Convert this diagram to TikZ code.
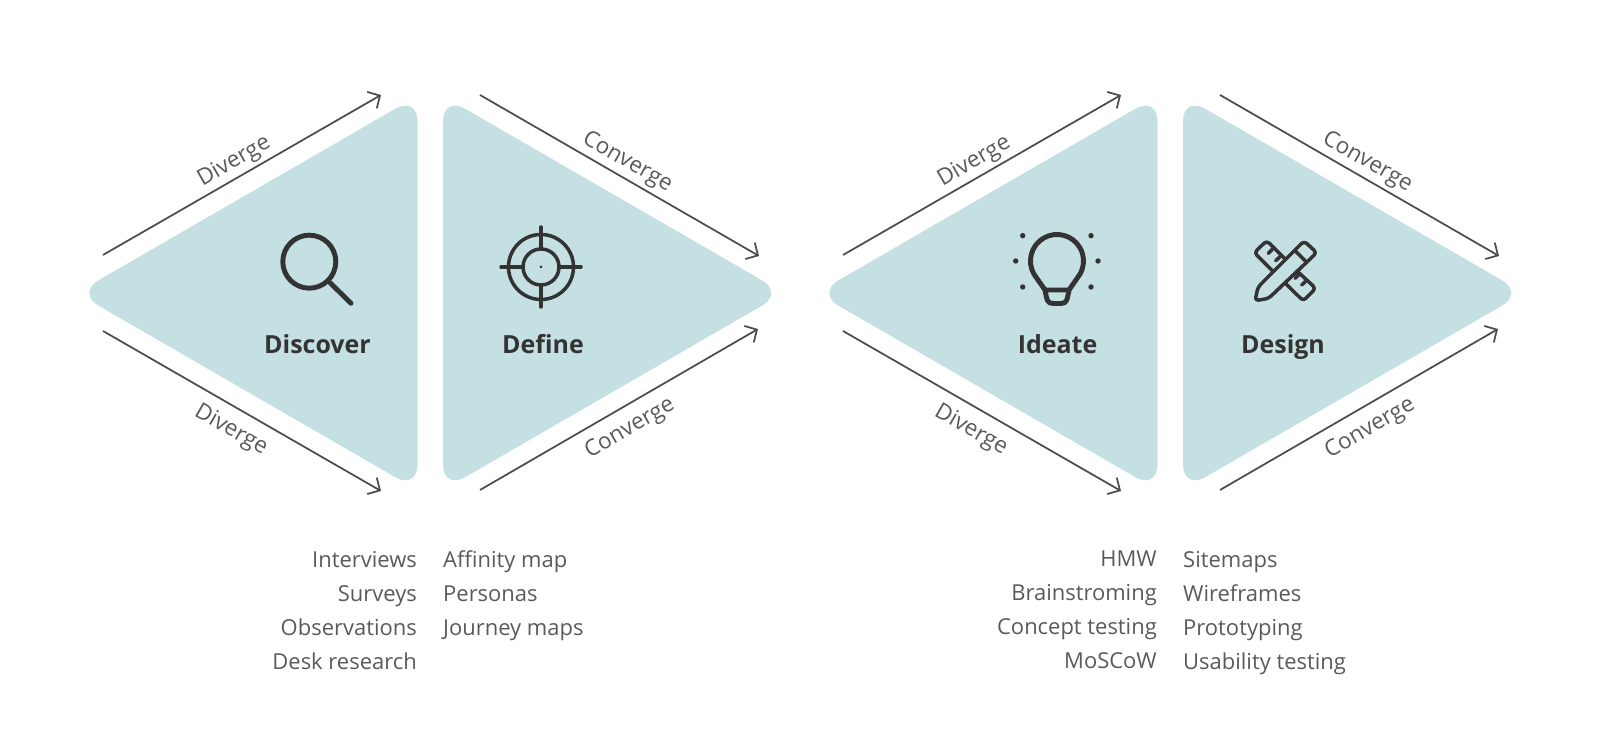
\documentclass[tikz,border=0pt]{standalone}
\usepackage{fontspec}
\setmainfont{Open Sans}
\usetikzlibrary{arrows.meta}
\definecolor{trianglefill}{HTML}{C5E0E2}
\definecolor{arrowgray}{HTML}{4D4D4D}
\definecolor{textgray}{HTML}{5A5A5A}
\definecolor{icondark}{HTML}{333333}
\tikzset{
    triangle/.style={fill=trianglefill, rounded corners=7.2pt},
    flow/.style={draw=arrowgray, line width=0.5pt, -{Straight Barb[length=2.6pt, width=5.4pt]}},
    flowlabel/.style={text=textgray, font=\fontsize{6.4}{8}\selectfont, sloped, midway},
    toplabel/.style={flowlabel, above, inner sep=1pt},
    lowlabel/.style={flowlabel, below, inner sep=3pt},
    title/.style={text=icondark, font=\bfseries\fontsize{7.1}{9}\selectfont, anchor=base},
    listtext/.style={text=textgray, font=\fontsize{6.25}{9.7}\selectfont, inner sep=0pt, execute at begin node=\rule{0pt}{7pt}},
    iconline/.style={draw=icondark, line width=1pt, line cap=round, line join=round},
    iconthick/.style={draw=icondark, line width=1.4pt, line cap=round, line join=round}
}

\begin{document}
\begin{tikzpicture}[scale=1]
    \useasboundingbox (0, 0) rectangle (16, 7.4);

    % Triangles
    \fill[triangle] (4.175, 6.44) -- (0.765, 4.47) -- (4.175, 2.5) -- cycle;
    \fill[triangle] (4.43, 6.44) -- (7.84, 4.47) -- (4.43, 2.5) -- cycle;
    \fill[triangle] (11.575, 6.44) -- (8.165, 4.47) -- (11.575, 2.5) -- cycle;
    \fill[triangle] (11.83, 6.44) -- (15.24, 4.47) -- (11.83, 2.5) -- cycle;

    % Ends of the arrows
    \coordinate (d1a) at (1.03, 4.85);
    \coordinate (d1b) at (3.81, 6.45);
    \coordinate (d2a) at (1.03, 4.09);
    \coordinate (d2b) at (3.81, 2.49);
    \coordinate (c1a) at (4.8, 6.45);
    \coordinate (c1b) at (7.59, 4.84);
    \coordinate (c2a) at (4.8, 2.5);
    \coordinate (c2b) at (7.58, 4.11);
    \coordinate (d3a) at (8.43, 4.85);
    \coordinate (d3b) at (11.21, 6.45);
    \coordinate (d4a) at (8.43, 4.09);
    \coordinate (d4b) at (11.21, 2.49);
    \coordinate (c3a) at (12.2, 6.45);
    \coordinate (c3b) at (14.99, 4.84);
    \coordinate (c4a) at (12.2, 2.5);
    \coordinate (c4b) at (14.98, 4.11);

    % Arrows
    \draw[flow] (d1a) -- node[toplabel] (dl1) {Diverge} (d1b);
    \draw[flow] (d2a) -- node[lowlabel] (dl2) {Diverge} (d2b);
    \draw[flow] (c1a) -- node[toplabel] (cl1) {Converge} (c1b);
    \draw[flow] (c2a) -- node[lowlabel] (cl2) {Converge} (c2b);
    \draw[flow] (d3a) -- node[toplabel] (dl3) {Diverge} (d3b);
    \draw[flow] (d4a) -- node[lowlabel] (dl4) {Diverge} (d4b);
    \draw[flow] (c3a) -- node[toplabel] (cl3) {Converge} (c3b);
    \draw[flow] (c4a) -- node[lowlabel] (cl4) {Converge} (c4b);

    % Magnifier
    \draw[iconthick] (3.093, 4.783) circle (0.265);
    \draw[iconthick] (3.3, 4.573) -- (3.51, 4.367);

    % Target
    \draw[iconline] (5.41, 4.73) circle (0.325);
    \draw[iconline] (5.41, 4.73) circle (0.18);
    \draw[iconline] (5.01, 4.73) -- (5.22, 4.73);
    \draw[iconline] (5.6, 4.73) -- (5.81, 4.73);
    \draw[iconline] (5.41, 5.13) -- (5.41, 4.92);
    \draw[iconline] (5.41, 4.54) -- (5.41, 4.33);
    \fill[icondark] (5.41, 4.73) circle (0.015);

    % Bulb
    \draw[iconthick] (10.45, 4.5) -- (10.34, 4.6575) arc[start angle=210, end angle=-30, radius=0.265] -- (10.69, 4.5) -- cycle;
    \draw[iconthick] (10.45, 4.5) .. controls (10.47, 4.4) and (10.47, 4.365) .. (10.53, 4.365) -- (10.61, 4.365) .. controls (10.67, 4.365) and (10.67, 4.4) .. (10.69, 4.5);
    \fill[icondark] (10.227, 5.043) circle (0.027);
    \fill[icondark] (10.157, 4.79) circle (0.027);
    \fill[icondark] (10.227, 4.53) circle (0.027);
    \fill[icondark] (10.91, 5.043) circle (0.027);
    \fill[icondark] (10.98, 4.79) circle (0.027);
    \fill[icondark] (10.91, 4.53) circle (0.027);

    % Ruler and pencil
    \draw[iconline, rounded corners=1pt] (12.733, 4.683) -- (12.543, 4.873) -- (12.667, 4.993) -- (12.855, 4.805);
    \draw[iconline, rounded corners=1pt] (12.97, 4.69) -- (13.157, 4.517) -- (13.033, 4.39) -- (12.848, 4.572);
    \draw[iconline] (12.723, 4.907) -- (12.683, 4.867);
    \draw[iconline] (12.8, 4.833) -- (12.757, 4.793);
    \draw[iconline] (12.99, 4.657) -- (12.95, 4.617);
    \draw[iconline] (13.06, 4.59) -- (13.017, 4.55);
    \draw[iconline, rounded corners=1pt] (12.55, 4.393) -- (12.58, 4.53) -- (13.04, 4.99) -- (13.167, 4.873) -- (12.685, 4.415) -- cycle;
    \draw[iconline] (12.95, 4.893) -- (13.067, 4.777);

    % Titles
    \node[title] (discover) at (3.175, 3.868) {Discover};
    \node[title] (define) at (5.43, 3.868) {Define};
    \node[title] (ideate) at (10.575, 3.86) {Ideate};
    \node[title] (design) at (12.83, 3.86) {Design};

    % Lists
    \node[listtext, anchor=north east, align=right] (methods1) at (4.175, 1.898) {Interviews\\Surveys\\Observations\\Desk research};
    \node[listtext, anchor=north west, align=left] (methods2) at (4.425, 1.898) {Affinity map\\Personas\\Journey maps};
    \node[listtext, anchor=north east, align=right] (methods3) at (11.575, 1.898) {HMW\\Brainstroming\\Concept testing\\MoSCoW};
    \node[listtext, anchor=north west, align=left] (methods4) at (11.825, 1.898) {Sitemaps\\Wireframes\\Prototyping\\Usability testing};
\end{tikzpicture}
\end{document}
